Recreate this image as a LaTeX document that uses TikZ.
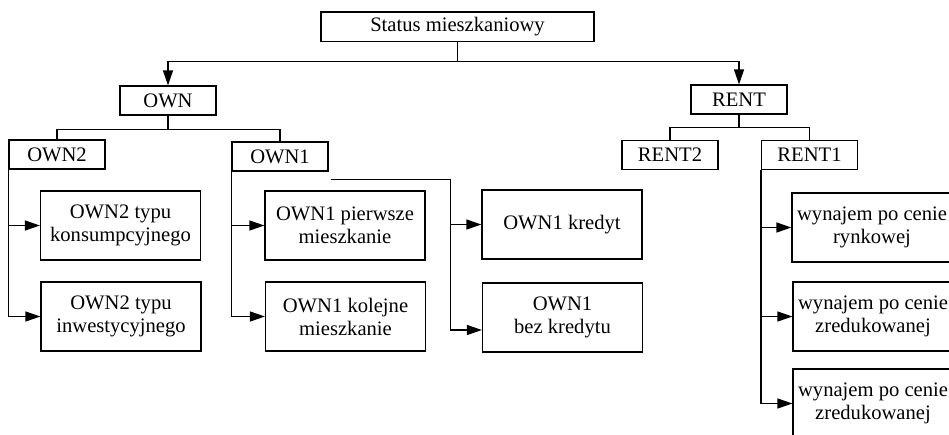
\documentclass[tikz,border=0pt]{standalone}
\usepackage{fontspec}
\setmainfont{Liberation Serif}
\usetikzlibrary{arrows.meta}
\begin{document}
\begin{tikzpicture}[x=1pt,y=-1pt,
  box/.style={draw, line width=1.2pt, inner sep=0pt, align=center, font=\fontsize{20.6}{23}\selectfont},
  small/.style={box, minimum width=96pt, minimum height=29pt},
  big/.style={box, minimum width=160pt, minimum height=69pt},
  link/.style={line width=1.2pt},
  arr/.style={link, -{Triangle[length=15pt,width=10pt]}}]
\useasboundingbox (0,0) rectangle (949,434);
\clip (0,0) rectangle (949,434);
% nodes
\node[box, minimum width=273pt, minimum height=29.5pt] (status) at (457.5,26.75) {Status mieszkaniowy};
\node[small] (own) at (168,100.5) {OWN};
\node[small] (rent) at (739,99.5) {RENT};
\node[small] (own2) at (57,154.5) {OWN2};
\node[small] (own1) at (280,156.5) {OWN1};
\node[small] (rent2) at (670,155) {RENT2};
\node[small] (rent1) at (809.5,155) {RENT1};
\node[big] (k1) at (120.5,225.5) {OWN2 typu\\konsumpcyjnego};
\node[big] (k2) at (121,316.5) {OWN2 typu\\inwestycyjnego};
\node[big] (p1) at (345,225.5) {OWN1 pierwsze\\mieszkanie};
\node[big] (p2) at (345.5,316.5) {OWN1 kolejne\\mieszkanie};
\node[big] (kr1) at (562,224.5) {OWN1 kredyt};
\node[big] (kr2) at (562.5,317.5) {OWN1\\bez kredytu};
\node[big] (w1) at (872,227.5) {wynajem po cenie\\rynkowej};
\node[big] (w2) at (873,316.5) {wynajem po cenie\\zredukowanej};
\node[big] (w3) at (873,403.5) {wynajem po cenie\\zredukowanej};
% connectors
\draw[arr] (status.south) -- ++(0,19) -| (own.north);
\draw[arr] (status.south) -- ++(0,19) -| (rent.north);
\draw[link] (own.south) -- ++(0,14) -| (own2.north);
\draw[link] (own.south) -- ++(0,14) -| (own1.north);
\draw[link] (rent.south) -- ++(0,13) -| (rent2.north);
\draw[link] (rent.south) -- ++(0,13) -| (rent1.north);
\draw[arr] (own2.south west) |- (k1.west);
\draw[arr] (own2.south west) |- (k2.west);
\draw[arr] (own1.south west) |- (p1.west);
\draw[arr] (own1.south west) |- (p2.west);
\coordinate (kv) at ([xshift=-31pt]kr1.west);
\draw[arr] ([shift={(2,8)}]own1.south east) -| (kv) -- (kr1.west);
\draw[arr] (kv) |- ([yshift=-12.5pt]kr2.west);
\draw[arr] (rent1.south west) |- (w1.west);
\draw[arr] (rent1.south west) |- (w2.west);
\draw[arr] (rent1.south west) |- (w3.west);
\end{tikzpicture}
\end{document}
